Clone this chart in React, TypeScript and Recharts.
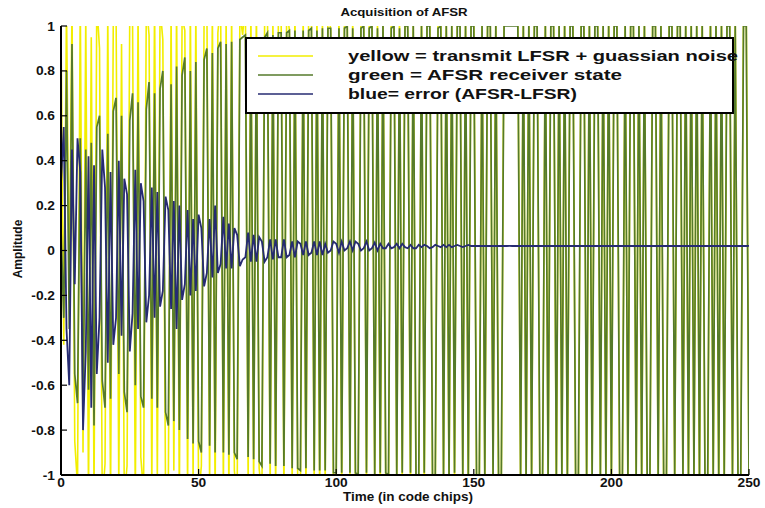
import { LineChart, Line, XAxis, YAxis, Legend } from "recharts";

// chip index 0..250
const time = Array.from({ length: 251 }, (_, i) => i);

// transmitted LFSR chips with gaussian noise
const transmit = [
  1, -0.42, 1.08, -0.22, 1.1, -0.85, -1.05, 1.12, -0.9, 1.05,
  -1.1, 0.95, -1.08, 1.1, 0.9, -1.12, -0.95, 1.06, -1.1, 1.02,
  1.1, -1.05, 0.92, -1.1, -0.96, 1.08, 1.02, -1.12, 1.06, -0.92,
  -1.08, 1.1, 0.96, -1.05, 1.12, -1.02, 1.08, 0.94, -1.1, -1.04,
  1.06, -0.98, 1.1, -1.12, 1.04, 0.98, -1.06, 1.1, -1.02, 1.08,
  -1.1, -0.96, 1.05, 1.12, -1.04, 1.08, -1.1, 0.97, 1.1, -1.06,
  1.04, -1.1, 1.08, -0.98, -1.12, 1.06, 0.96, 1.1, -1.04, 1.08,
  -1.06, 1.1, -0.97, -1.1, 1.04, 1.12, -1.08, 1.02, -1.1, 1.06,
  1.04, -1.1, 1.08, 0.98, -1.06, 1.1, -1.02, -1.08, 1.06, -1.1,
  1.1, 1.02, -1.06, 1.08, -1.12, 1.04, -1.06, 1.1, 0.98, -1.08,
  -1.04, 1.1, -1.08, 1.06, 1.12, -1.02, 1.08, -1.1, -0.98, 1.06,
  1.08, -1.06, 1.02, 1.1, -1.08, 1.04, -1.12, 1.06, -1.04, -1.1,
  1.06, 1.1, -1.04, 1.08, -1.06, 1.12, 0.98, -1.1, 1.04, -1.08,
  -1.06, 1.08, -1.1, 1.04, 1.1, -1.02, -1.08, 1.06, 1.1, -1.04,
  1.08, -1.1, 1.04, -1.06, 1.1, 1.02, -1.08, 1.06, -1.1, 1.04,
  1.1, -1.04, -1.08, 1.06, -1.1, 1.08, 1.02, -1.06, 1.1, -1.08,
  -1.04, 1.08, 1.1, 1.02, 1.06, 1.1, 1.04, -1.08, 1.06, -1.1,
  1.08, -1.06, 1.04, 1.1, -1.08, -1.02, 1.06, -1.1, 1.08, 1.04,
  -1.1, 1.06, -1.04, 1.08, -1.1, 1.02, 1.08, -1.06, -1.1, 1.04,
  1.1, -1.08, 1.06, -1.04, 1.08, 1.1, -1.06, 1.04, -1.1, 1.08,
  -1.06, 1.1, 1.04, -1.08, -1.04, 1.06, -1.1, 1.08, 1.02, -1.06,
  1.08, -1.1, 1.06, -1.04, -1.08, 1.1, 1.04, -1.06, 1.08, -1.1,
  -1.04, 1.08, 1.1, -1.06, 1.04, 1.08, -1.1, 1.06, -1.08, 1.1,
  -1.06, 1.04, -1.1, 1.08, -1.04, -1.08, 1.1, -1.06, 1.04, -1.1,
  1.06, -1.08, 1.1, 1.04, -1.06, 1.08, -1.1, -1.04, 1.06, 1.1,
  -1.08,
];

// AFSR receiver state
const receiver = [
  0.1, -0.3, 0.8, -0.35, 0.92, -0.55, -0.68, 0.5, -0.72, 0.45,
  -0.62, 0.48, -0.78, 0.55, 0.6, -0.58, -0.7, 0.52, -0.66, 0.62,
  0.68, -0.55, 0.6, -0.63, -0.72, 0.58, 0.7, -0.6, 0.66, -0.65,
  -0.7, 0.63, 0.75, -0.66, 0.7, -0.7, 0.72, 0.8, -0.72, -0.78,
  0.74, -0.76, 0.82, -0.8, 0.78, 0.86, -0.84, 0.8, -0.86, 0.84,
  -0.85, -0.9, 0.85, 0.9, -0.87, 0.88, -0.9, 0.9, 0.93, -0.9,
  0.92, -0.91, 0.93, -0.9, -0.93, 0.94, 0.95, 0.96, -0.92, 0.95,
  -0.93, 0.95, -0.94, -0.96, 0.95, 0.97, -0.95, 0.96, -0.96, 0.97,
  0.97, -0.96, 0.97, 0.98, -0.97, 0.98, -0.97, -0.98, 0.98, -0.97,
  0.98, 0.99, -0.98, 0.98, -0.98, 0.99, -0.98, 0.99, 0.99, -0.99,
  -0.99, 0.99, -0.99, 0.99, 1, -0.99, 0.99, -0.99, -1, 0.99,
  1, -0.99, 0.99, 1, -1, 0.99, -0.99, 1, -0.99, -1,
  0.99, 1, -1, 0.99, -0.99, 1, 1, -0.99, 1, -1,
  -1, 1, -0.99, 1, 1, -1, -1, 0.99, 1, -1,
  1, -1, 1, -0.99, 1, 1, -1, 1, -1, 1,
  1, -1, -1, 1, -1, 1, 1, -1, 1, -1,
  -1, 1, 1, 1, 1, 1, 1, -1, 1, -1,
  1, -1, 1, 1, -1, -1, 1, -1, 1, 1,
  -1, 1, -1, 1, -1, 1, 1, -1, -1, 1,
  1, -1, 1, -1, 1, 1, -1, 1, -1, 1,
  -1, 1, 1, -1, -1, 1, -1, 1, 1, -1,
  1, -1, 1, -1, -1, 1, 1, -1, 1, -1,
  -1, 1, 1, -1, 1, 1, -1, 1, -1, 1,
  -1, 1, -1, 1, -1, -1, 1, -1, 1, -1,
  1, -1, 1, 1, -1, 1, -1, -1, 1, 1,
  -1,
];

// error between AFSR and LFSR
const error = [
  0.3, 0.55, -0.35, -0.6, 0.45, -0.15, 0.5, 0.35, -0.8, -0.45,
  0.42, -0.7, 0.38, -0.55, -0.3, 0.45, 0.28, -0.5, 0.35, -0.42,
  -0.3, 0.4, -0.38, 0.32, 0.25, -0.45, -0.28, 0.36, -0.35, 0.3,
  0.22, -0.32, -0.2, 0.28, -0.3, 0.26, -0.25, -0.18, 0.24, 0.18,
  -0.26, 0.22, -0.35, 0.2, -0.22, -0.15, 0.18, -0.2, 0.14, -0.18,
  0.16, 0.1, -0.16, -0.1, 0.14, -0.12, 0.2, -0.1, -0.06, 0.15,
  -0.08, 0.12, -0.08, 0.1, 0.07, -0.07, -0.04, -0.03, 0.08, -0.05,
  0.07, -0.05, 0.06, 0.04, -0.05, -0.03, 0.05, -0.04, 0.05, -0.03,
  -0.03, 0.05, -0.03, -0.02, 0.04, -0.03, 0.04, 0.03, -0.02, 0.04,
  -0.02, -0.01, 0.04, -0.02, 0.04, -0.02, 0.03, -0.01, 0.0, 0.04,
  0.03, -0.01, 0.04, 0.0, 0.01, 0.04, 0.0, 0.04, 0.03, 0.0,
  0.01, 0.04, 0.0, 0.01, 0.035, 0.0, 0.03, 0.01, 0.01, 0.03,
  0.01, 0.015, 0.03, 0.01, 0.03, 0.015, 0.01, 0.025, 0.01, 0.01,
  0.025, 0.015, 0.025, 0.02, 0.01, 0.015, 0.025, 0.02, 0.015, 0.025,
  0.015, 0.025, 0.015, 0.02, 0.025, 0.02, 0.015, 0.02, 0.025, 0.02,
  0.02, 0.021, 0.02, 0.02, 0.021, 0.02, 0.02, 0.021, 0.02, 0.02,
  0.021, 0.02, 0.02, 0.021, 0.02, 0.02, 0.021, 0.02, 0.02, 0.021,
  0.02, 0.02, 0.021, 0.02, 0.02, 0.021, 0.02, 0.02, 0.021, 0.02,
  0.02, 0.021, 0.02, 0.02, 0.021, 0.02, 0.02, 0.021, 0.02, 0.02,
  0.021, 0.02, 0.02, 0.021, 0.02, 0.02, 0.021, 0.02, 0.02, 0.021,
  0.02, 0.02, 0.021, 0.02, 0.02, 0.021, 0.02, 0.02, 0.021, 0.02,
  0.02, 0.021, 0.02, 0.02, 0.021, 0.02, 0.02, 0.021, 0.02, 0.02,
  0.021, 0.02, 0.02, 0.021, 0.02, 0.02, 0.021, 0.02, 0.02, 0.021,
  0.02, 0.02, 0.021, 0.02, 0.02, 0.021, 0.02, 0.02, 0.021, 0.02,
  0.02, 0.021, 0.02, 0.02, 0.021, 0.02, 0.02, 0.021, 0.02, 0.02,
  0.021,
];

const xTicks = [0, 50, 100, 150, 200, 250];
const yTicks = [-1, -0.8, -0.6, -0.4, -0.2, 0, 0.2, 0.4, 0.6, 0.8, 1];

const seriesNames = [
  "yellow = transmit LFSR + guassian noise",
  "green = AFSR receiver state",
  "blue= error (AFSR-LFSR)",
];

const data = time.map((t, i) => ({
  t,
  transmit: transmit[i],
  receiver: receiver[i],
  error: error[i],
}));

const FONT = "'Liberation Sans', Arial, Helvetica, sans-serif";
const TICK_LEN = 6;
const STRETCH = 1.1;

const BottomTick = (props: any) => {
  const { x, y, payload } = props;
  return (
    <g>
      <line x1={x} y1={y} x2={x} y2={y - TICK_LEN} stroke="#000" strokeWidth={1.2} />
      <text
        transform={`translate(${x},${y + 12}) scale(${STRETCH},1)`}
        textAnchor="middle"
        fontFamily={FONT}
        fontWeight="bold"
        fontSize={12.5}
        fill="#111"
      >
        {payload.value}
      </text>
    </g>
  );
};

const LeftTick = (props: any) => {
  const { x, y, payload } = props;
  return (
    <g>
      <line x1={x} y1={y} x2={x + TICK_LEN} y2={y} stroke="#000" strokeWidth={1.2} />
      <text
        transform={`translate(${x - 6},${y + 4.5}) scale(${STRETCH},1)`}
        textAnchor="end"
        fontFamily={FONT}
        fontWeight="bold"
        fontSize={12.5}
        fill="#111"
      >
        {payload.value}
      </text>
    </g>
  );
};

const TopTick = (props: any) => {
  const { x, y } = props;
  return <line x1={x} y1={y} x2={x} y2={y + TICK_LEN} stroke="#000" strokeWidth={1.2} />;
};

const RightTick = (props: any) => {
  const { x, y } = props;
  return <line x1={x} y1={y} x2={x - TICK_LEN} y2={y} stroke="#000" strokeWidth={1.2} />;
};

// legend text widths, in px, same order as seriesNames
const legendWidths = [390, 274, 229];

const LegendBox = (props: any) => {
  const entries = [...(props.payload ?? [])].sort(
    (a: any, b: any) => seriesNames.indexOf(a.value) - seriesNames.indexOf(b.value)
  );
  return (
    <svg width={490} height={77} style={{ overflow: "visible", display: "block" }}>
      <rect x={1} y={1} width={487} height={75} fill="#fff" stroke="#000" strokeWidth={2} />
      {entries.map((entry: any, i: number) => (
        <g key={entry.value}>
          <line x1={13} x2={68} y1={19 + i * 19} y2={19 + i * 19} stroke={entry.color} strokeWidth={1.6} />
          <text
            x={103}
            y={24 + i * 19}
            textLength={legendWidths[seriesNames.indexOf(entry.value)]}
            lengthAdjust="spacingAndGlyphs"
            fontFamily={FONT}
            fontWeight="bold"
            fontSize={15}
            fill="#111"
          >
            {entry.value}
          </text>
        </g>
      ))}
    </svg>
  );
};

export default function App() {
  return (
    <div style={{ position: "absolute", left: 0, top: 0, width: 765, height: 508, background: "#fff" }}>
      <LineChart
        width={765}
        height={508}
        data={data}
        margin={{ top: 26, right: 16, bottom: 0, left: 0 }}
      >
        <XAxis
          dataKey="t"
          type="number"
          domain={[0, 250]}
          ticks={xTicks}
          height={33}
          tickSize={0}
          tickMargin={0}
          tickLine={false}
          tick={<BottomTick />}
          axisLine={{ stroke: "#000", strokeWidth: 2 }}
          allowDataOverflow
        />
        <XAxis
          xAxisId="top"
          orientation="top"
          dataKey="t"
          type="number"
          domain={[0, 250]}
          ticks={xTicks}
          height={0}
          tickSize={0}
          tickMargin={0}
          tickLine={false}
          tick={<TopTick />}
          axisLine={{ stroke: "#000", strokeWidth: 2 }}
          allowDataOverflow
        />
        <YAxis
          type="number"
          domain={[-1, 1]}
          ticks={yTicks}
          width={61}
          tickSize={0}
          tickMargin={0}
          tickLine={false}
          tick={<LeftTick />}
          axisLine={{ stroke: "#000", strokeWidth: 2 }}
          allowDataOverflow
        />
        <YAxis
          yAxisId="right"
          orientation="right"
          type="number"
          domain={[-1, 1]}
          ticks={yTicks}
          width={0}
          tickSize={0}
          tickMargin={0}
          tickLine={false}
          tick={<RightTick />}
          axisLine={{ stroke: "#000", strokeWidth: 2 }}
          allowDataOverflow
        />
        <Legend
          layout="vertical"
          align="center"
          verticalAlign="middle"
          wrapperStyle={{ left: 245, top: 37, width: 490, height: 77 }}
          content={<LegendBox />}
        />
        <Line
          name={seriesNames[0]}
          dataKey="transmit"
          type="linear"
          stroke="#f2ee00"
          strokeWidth={1.6}
          dot={false}
          activeDot={false}
          isAnimationActive={false}
        />
        <Line
          name={seriesNames[1]}
          dataKey="receiver"
          type="linear"
          stroke="#557a2b"
          strokeWidth={1.7}
          dot={false}
          activeDot={false}
          isAnimationActive={false}
        />
        <Line
          name={seriesNames[2]}
          dataKey="error"
          type="linear"
          stroke="#262b72"
          strokeWidth={1.8}
          dot={false}
          activeDot={false}
          isAnimationActive={false}
        />
        <text
          transform={`translate(404,16) scale(1.15,1)`}
          textAnchor="middle"
          fontFamily={FONT}
          fontWeight="bold"
          fontSize={11.5}
          fill="#111"
        >
          Acquisition of AFSR
        </text>
        <text
          transform={`translate(408,501) scale(1.08,1)`}
          textAnchor="middle"
          fontFamily={FONT}
          fontWeight="bold"
          fontSize={12.5}
          fill="#111"
        >
          Time (in code chips)
        </text>
        <text
          transform="translate(22,249) rotate(-90)"
          textAnchor="middle"
          fontFamily={FONT}
          fontWeight="bold"
          fontSize={12}
          fill="#111"
        >
          Amplitude
        </text>
      </LineChart>
    </div>
  );
}
